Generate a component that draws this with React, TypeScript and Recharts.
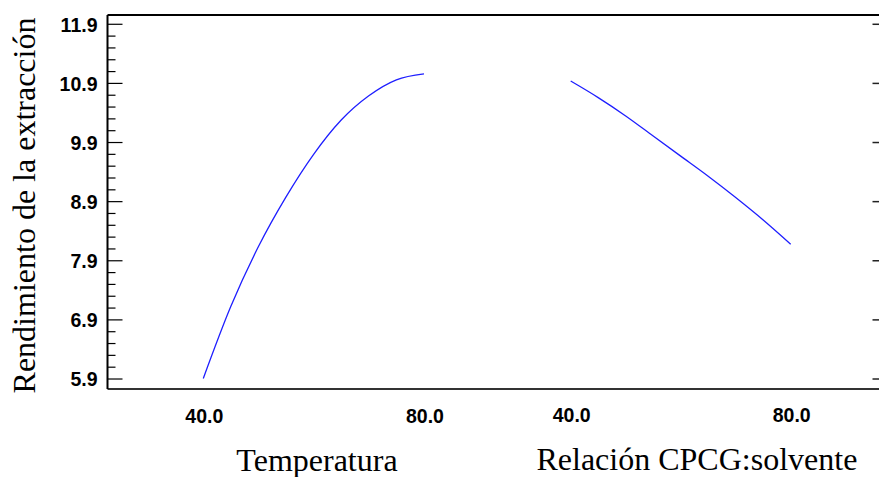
import React from 'react';
import { LineChart, Line, XAxis, YAxis } from 'recharts';

// niveles de los factores (eje X) y rendimiento estimado (eje Y)
const temperatura = [40, 45, 50, 55, 60, 65, 70, 75, 80];
const rendTemperatura = [5.91, 7.13, 8.14, 8.98, 9.7, 10.28, 10.69, 10.96, 11.06];
const relacion = [40, 45, 50, 55, 60, 65, 70, 75, 80];
const rendRelacion = [10.94, 10.66, 10.35, 10.01, 9.67, 9.33, 8.97, 8.59, 8.18];

const xTicks = [40, 80];
const yMajorTicks = [5.9, 6.9, 7.9, 8.9, 9.9, 10.9, 11.9];
const yMinorTicks = [
  6.1, 6.3, 6.5, 6.7, 7.1, 7.3, 7.5, 7.7, 8.1, 8.3, 8.5, 8.7, 9.1, 9.3, 9.5, 9.7,
  10.1, 10.3, 10.5, 10.7, 11.1, 11.3, 11.5, 11.7,
];

const tempData = temperatura.map((x, i) => ({ x, y: rendTemperatura[i] }));
const relData = relacion.map((x, i) => ({ x, y: rendRelacion[i] }));
const yTicks = [...yMajorTicks, ...yMinorTicks].sort((a, b) => a - b);

const Y_DOMAIN: [number, number] = [5.731, 12.057];
const TEMP_DOMAIN: [number, number] = [22.64, 162.74];
const REL_DOMAIN: [number, number] = [-44.22, 96.33];

const tickFont = '"Liberation Sans", Arial, sans-serif';
const titleFont = '"Liberation Serif", "Times New Roman", serif';

const isMajor = (v: number) => yMajorTicks.some((t) => Math.abs(t - v) < 1e-6);

// tickSize is 1, so the axis line sits 1px from the tick anchor
const LeftTick = (props: any) => {
  const { x, y, payload } = props;
  const ax = x + 1;
  const major = isMajor(payload.value);
  return (
    <g>
      <line x1={ax} x2={ax + (major ? 15 : 8)} y1={y} y2={y} stroke="#000" strokeWidth={1.2} />
      {major && (
        <text
          x={ax - 10}
          y={y + 7.4}
          textAnchor="end"
          fontFamily={tickFont}
          fontWeight="bold"
          fontSize={19.5}
          fill="#000"
        >
          {payload.value.toFixed(1)}
        </text>
      )}
    </g>
  );
};

const RightTick = (props: any) => {
  const { x, y } = props;
  const ax = x - 1;
  return <line x1={ax - 8} x2={ax} y1={y} y2={y} stroke="#222" strokeWidth={1.5} />;
};

const BottomTick = (props: any) => {
  const { x, y, payload } = props;
  return (
    <text
      x={x + 1}
      y={y + 32}
      textAnchor="middle"
      fontFamily={tickFont}
      fontWeight="bold"
      fontSize={19.5}
      fill="#000"
    >
      {Number(payload.value).toFixed(1)}
    </text>
  );
};

const xTitle = (text: string, frac: number) => (props: any) => {
  const vb = props.viewBox;
  return (
    <text
      x={vb.x + vb.width * frac}
      y={vb.y + 81}
      textAnchor="middle"
      fontFamily={titleFont}
      fontSize={32}
      fill="#000"
    >
      {text}
    </text>
  );
};

const yTitle = (props: any) => {
  const vb = props.viewBox;
  const cy = vb.y + vb.height / 2 + 3.5;
  return (
    <text
      x={35}
      y={cy}
      transform={`rotate(-90, 35, ${cy})`}
      textAnchor="middle"
      fontFamily={titleFont}
      fontSize={32}
      fill="#000"
    >
      Rendimiento de la extracción
    </text>
  );
};

export default function App() {
  return (
    <div style={{ position: 'absolute', left: 0, top: 0, width: 879, height: 477, overflow: 'hidden', background: '#fff' }}>
      <LineChart width={882} height={477} margin={{ top: 14, right: 0.5, bottom: 0, left: 0 }}>
        <XAxis
          xAxisId="top"
          orientation="top"
          type="number"
          domain={[0, 1]}
          height={1}
          tick={false}
          tickLine={false}
          axisLine={{ stroke: '#000', strokeWidth: 2 }}
        />
        <XAxis
          xAxisId="t"
          dataKey="x"
          type="number"
          domain={TEMP_DOMAIN}
          allowDataOverflow
          ticks={xTicks}
          interval={0}
          height={87}
          tickSize={1}
          tickMargin={0}
          tickLine={false}
          tick={<BottomTick />}
          axisLine={false}
          label={{ content: xTitle('Temperatura', 0.271) }}
        />
        <XAxis
          xAxisId="r"
          dataKey="x"
          type="number"
          domain={REL_DOMAIN}
          allowDataOverflow
          ticks={xTicks}
          interval={0}
          height={1}
          tickSize={1}
          tickMargin={0}
          tickLine={false}
          tick={<BottomTick />}
          axisLine={{ stroke: '#333', strokeWidth: 2 }}
          label={{ content: xTitle('Relación CPCG:solvente', 0.7625) }}
        />
        <YAxis
          yAxisId="left"
          type="number"
          domain={Y_DOMAIN}
          allowDataOverflow
          ticks={yTicks}
          interval={0}
          width={107.5}
          tickSize={1}
          tickMargin={0}
          tickLine={false}
          tick={<LeftTick />}
          axisLine={{ stroke: '#000', strokeWidth: 2 }}
          label={{ content: yTitle }}
        />
        <YAxis
          yAxisId="right"
          orientation="right"
          type="number"
          domain={Y_DOMAIN}
          allowDataOverflow
          ticks={yMajorTicks}
          interval={0}
          width={1}
          tickSize={1}
          tickMargin={0}
          tickLine={false}
          tick={<RightTick />}
          axisLine={{ stroke: '#000', strokeWidth: 2 }}
        />
        <Line
          xAxisId="t"
          yAxisId="left"
          data={tempData}
          dataKey="y"
          type="monotone"
          stroke="#1f1fff"
          strokeWidth={1.3}
          dot={false}
          isAnimationActive={false}
        />
        <Line
          xAxisId="r"
          yAxisId="left"
          data={relData}
          dataKey="y"
          type="monotone"
          stroke="#1f1fff"
          strokeWidth={1.3}
          dot={false}
          isAnimationActive={false}
        />
      </LineChart>
    </div>
  );
}
